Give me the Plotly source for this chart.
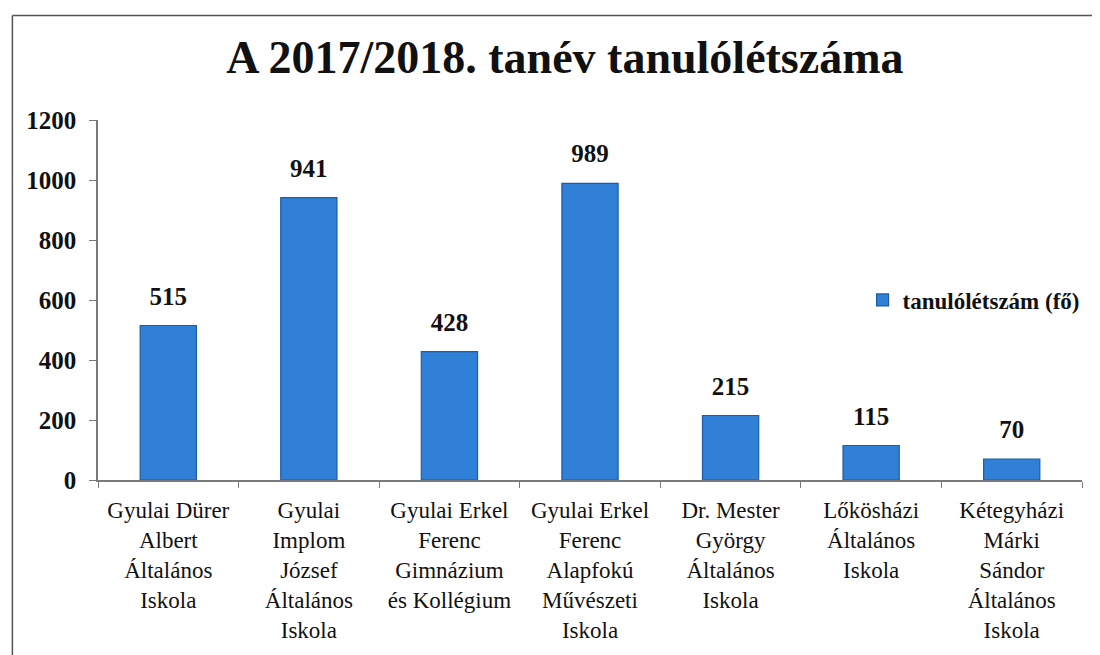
import plotly.graph_objects as go

categories = [
    "Gyulai Dürer<br>Albert<br>Általános<br>Iskola",
    "Gyulai<br>Implom<br>József<br>Általános<br>Iskola",
    "Gyulai Erkel<br>Ferenc<br>Gimnázium<br>és Kollégium",
    "Gyulai Erkel<br>Ferenc<br>Alapfokú<br>Művészeti<br>Iskola",
    "Dr. Mester<br>György<br>Általános<br>Iskola",
    "Lőkösházi<br>Általános<br>Iskola",
    "Kétegyházi<br>Márki<br>Sándor<br>Általános<br>Iskola",
]
values = [515, 941, 428, 989, 215, 115, 70]
series_name = "tanulólétszám (fő)"
title_text = "A 2017/2018. tanév tanulólétszáma"
y_ticks = [0, 200, 400, 600, 800, 1000, 1200]

FONT = "Liberation Serif, Times New Roman, serif"

fig = go.Figure()
fig.add_trace(go.Bar(
    x=categories, y=values, name=f"<b>{series_name}</b>",
    marker=dict(color="#2F80D6", line=dict(color="#1C5DA3", width=1.2)),
    showlegend=True,
))
fig.add_trace(go.Scatter(
    x=categories, y=values, mode="markers+text",
    text=[f"<b>{v}</b>" for v in values], textposition="top center",
    textfont=dict(family=FONT, size=25, color="#111111"),
    marker=dict(size=22, opacity=0),
    showlegend=False, hoverinfo="skip", cliponaxis=False,
))

fig.update_layout(
    width=1092, height=647,
    paper_bgcolor="white", plot_bgcolor="white",
    margin=dict(l=90, r=18, t=112, b=175),
    bargap=0.6,
    font=dict(family=FONT, color="#111111"),
    title=dict(
        text=f"<b>{title_text}</b>",
        x=0.51, xanchor="center", xref="container",
        y=0.925, yanchor="middle", yref="container",
        font=dict(family=FONT, size=46, color="#111111"),
    ),
    legend=dict(
        x=0.777, y=0.5, xanchor="left", yanchor="middle",
        bgcolor="rgba(0,0,0,0)", itemwidth=30,
        font=dict(family=FONT, size=23, color="#111111"),
    ),
    xaxis=dict(
        showline=True, linecolor="#7a7a7a", linewidth=1.5,
        ticks="outside", tickson="boundaries", ticklen=6, tickcolor="#7a7a7a",
        tickfont=dict(family=FONT, size=23, color="#111111"),
        ticklabelstandoff=9,
        showgrid=False,
    ),
    yaxis=dict(
        range=[0, 1200], tickvals=y_ticks,
        ticktext=[f"<b>{t}</b>" for t in y_ticks],
        showline=True, linecolor="#7a7a7a", linewidth=1.5,
        ticks="outside", ticklen=7, tickcolor="#7a7a7a",
        tickfont=dict(family=FONT, size=25, color="#111111"),
        ticklabelstandoff=8,
        showgrid=False, zeroline=False,
    ),
    shapes=[
        dict(type="line", xref="paper", yref="paper",
             x0=-0.087, x1=1.02, y0=1.29, y1=1.29,
             line=dict(color="#555555", width=1.5)),
        dict(type="line", xref="paper", yref="paper",
             x0=-0.087, x1=-0.087, y0=1.29, y1=-0.49,
             line=dict(color="#555555", width=1.5)),
    ],
)

fig.write_html("out.html")
